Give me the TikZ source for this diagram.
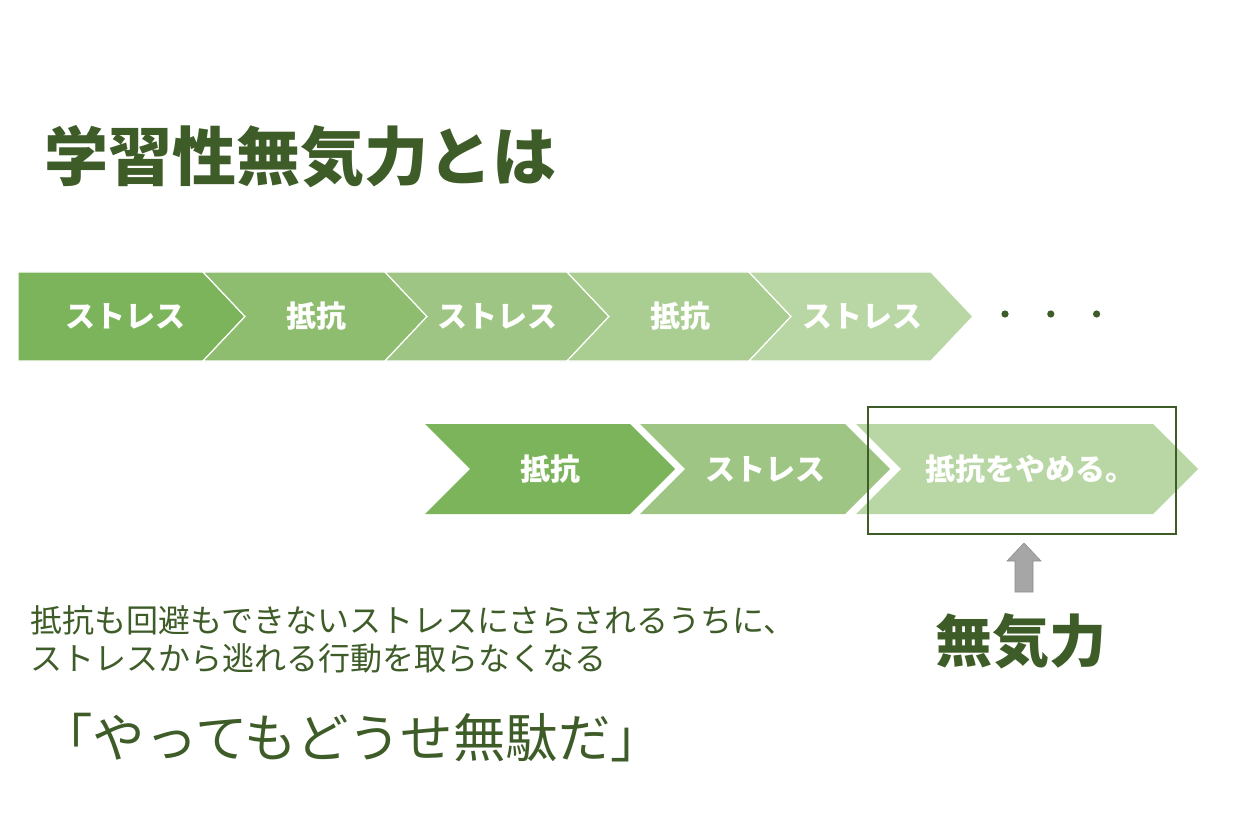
\documentclass[tikz,border=0pt]{standalone}
\usepackage{fontspec}
\setmainfont{Noto Sans CJK JP}
\usepackage{tikz}
\usetikzlibrary{positioning}
\definecolor{chev_a}{RGB}{123,180,90}
\definecolor{chev_b}{RGB}{143,189,112}
\definecolor{chev_c}{RGB}{158,197,131}
\definecolor{chev_d}{RGB}{170,206,146}
\definecolor{chev_e}{RGB}{185,215,165}
\definecolor{text_green}{RGB}{62,92,40}
\definecolor{arrow_grey}{RGB}{166,166,166}
\tikzset{
  chevlabel/.style={text=white, inner sep=0pt, font=\bfseries\fontsize{15}{18}\selectfont},
  dotmark/.style={circle, fill=text_green, inner sep=0pt, minimum size=3.6pt}
}

\begin{document}
\begin{tikzpicture}[x=0.5pt, y=-0.5pt]
    \useasboundingbox (0,0) rectangle (1260,840);
    % heading
    \node[anchor=west, inner sep=0pt, text=text_green, font=\bfseries\fontsize{32}{38}\selectfont] (title) at (44,157) {学習性無気力とは};
    % first row of chevrons
    \begin{scope}[draw=white, line width=0.6pt]
        \filldraw[fill=chev_a] (18,272) -- (203,272) -- (245,316.5) -- (203,361) -- (18,361) -- cycle;
        \filldraw[fill=chev_b] (203,272) -- (385,272) -- (427,316.5) -- (385,361) -- (203,361) -- (245,316.5) -- cycle;
        \filldraw[fill=chev_c] (385,272) -- (567,272) -- (609,316.5) -- (567,361) -- (385,361) -- (427,316.5) -- cycle;
        \filldraw[fill=chev_d] (567,272) -- (749,272) -- (791,316.5) -- (749,361) -- (567,361) -- (609,316.5) -- cycle;
        \filldraw[fill=chev_e] (749,272) -- (931,272) -- (973,316.5) -- (931,361) -- (749,361) -- (791,316.5) -- cycle;
    \end{scope}
    \node[chevlabel] (stressA) at (125,316) {ストレス};
    \node[chevlabel] (resistA) at (316,316) {抵抗};
    \node[chevlabel] (stressB) at (497,316) {ストレス};
    \node[chevlabel] (resistB) at (680,316) {抵抗};
    \node[chevlabel] (stressC) at (862,316) {ストレス};
    \node[dotmark] (dotA) at (1005,314) {};
    \node[dotmark, right=18.9pt of dotA] (dotB) {};
    \node[dotmark, right=18.9pt of dotB] (dotC) {};
    % second row of chevrons
    \fill[chev_a] (425,424) -- (630,424) -- (675,469) -- (630,514) -- (425,514) -- (470,469) -- cycle;
    \fill[chev_c] (640,424) -- (845,424) -- (890,469) -- (845,514) -- (640,514) -- (685,469) -- cycle;
    \fill[chev_e] (856,424) -- (1153,424) -- (1198,469) -- (1153,514) -- (856,514) -- (901,469) -- cycle;
    \node[chevlabel] (resistC) at (550,469) {抵抗};
    \node[chevlabel] (stressD) at (765,469) {ストレス};
    \node[chevlabel] (giveup) at (1030,469) {抵抗をやめる。};
    \draw[text_green, line width=0.8pt] (868,407) rectangle (1176,534);
    % helplessness
    \filldraw[fill=arrow_grey, draw=arrow_grey!85!black, line width=0.3pt] (1024,543) -- (1041,561) -- (1033,561) -- (1033,592) -- (1015,592) -- (1015,561) -- (1007,561) -- cycle;
    \node[inner sep=0pt, text=text_green, font=\bfseries\fontsize{28.5}{34}\selectfont] (muki) at (1021,641) {無気力};
    % explanation
    \node[anchor=west, inner sep=0pt, align=left, text=text_green, font=\fontsize{16}{19}\selectfont] (expl) at (30,639) {抵抗も回避もできないストレスにさらされるうちに、\\ストレスから逃れる行動を取らなくなる};
    \node[anchor=west, inner sep=0pt, text=text_green, font=\fontsize{26.2}{31}\selectfont] (quote) at (40,738) {「やってもどうせ無駄だ」};
\end{tikzpicture}
\end{document}
